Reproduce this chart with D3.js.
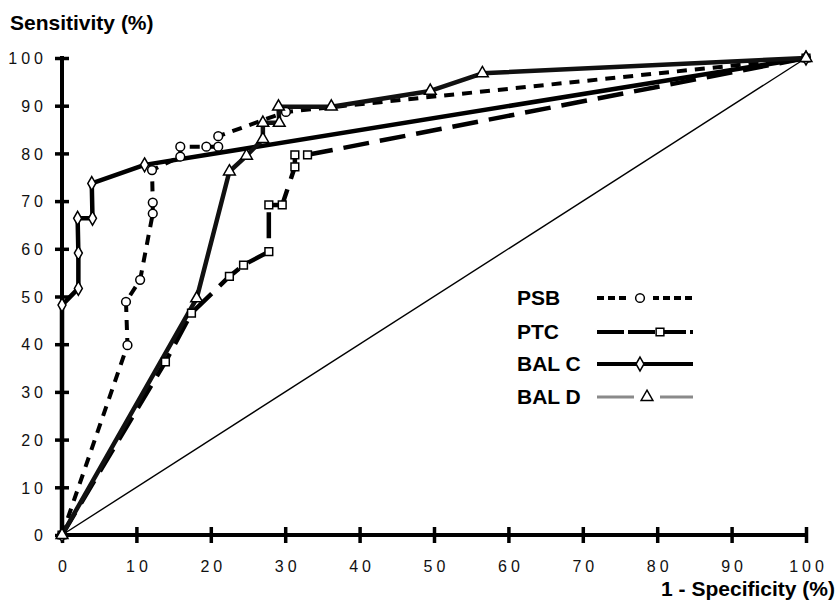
<!DOCTYPE html>
<html><head><meta charset="utf-8">
<script src="https://cdn.jsdelivr.net/npm/d3@7"></script>
<style>body{margin:0;background:#fff}svg{display:block}</style>
</head><body>
<svg id="c" width="839" height="605"></svg>
<script>
// ---- data ----
const xTicks = [0,10,20,30,40,50,60,70,80,90,100];
const yTicks = [0,10,20,30,40,50,60,70,80,90,100];
const xTickLabels = ["0","10","20","30","40","50","60","70","80","90","100"];
const yTickLabels = ["0","10","20","30","40","50","60","70","80","90","100"];

const psbX = [0, 8.8, 8.6, 10.5, 12.2, 12.2, 12.1, 15.9, 15.9, 19.4, 21.0, 21.0, 30.1, 100];
const psbY = [0, 39.8, 48.9, 53.5, 67.4, 69.7, 76.5, 79.3, 81.4, 81.4, 81.4, 83.6, 88.7, 100];

const ptcX = [0, 13.9, 17.4, 22.5, 24.4, 27.8, 27.8, 29.6, 31.3, 31.3, 33.0, 100];
const ptcY = [0, 36.3, 46.5, 54.2, 56.6, 59.4, 69.2, 69.2, 77.2, 79.7, 79.7, 100];

const balcX = [0, 0, 2.2, 2.2, 2.1, 4.1, 4.0, 11.1, 100];
const balcY = [0, 48.2, 51.7, 59.1, 66.4, 66.4, 73.7, 77.6, 100];

const baldX = [0, 18.1, 22.5, 24.8, 27.0, 27.0, 29.2, 29.1, 36.2, 49.5, 56.5, 100];
const baldY = [0, 49.6, 76.2, 79.5, 83.0, 86.4, 86.4, 89.8, 89.8, 93.1, 96.8, 100];

const seriesNames = ["PSB", "PTC", "BAL C", "BAL D"];
// ---- drawing ----
const svg = d3.select("#c");
const x = d3.scaleLinear().domain([0,100]).range([62,806]);
const y = d3.scaleLinear().domain([0,100]).range([535,58]);
const font = "'Liberation Sans', Arial, Helvetica, sans-serif";

const series = [
  {name:"PSB", xs:psbX, ys:psbY, sym:d3.symbolCircle, size:60, dash:"10,8", w:4, color:"#000"},
  {name:"PTC", xs:ptcX, ys:ptcY, sym:d3.symbolSquare, size:60, dash:"26,11", w:4.5, color:"#000"},
  {name:"BAL C", xs:balcX, ys:balcY, sym:d3.symbolDiamond, size:55, dash:null, w:4.5, color:"#000"},
  {name:"BAL D", xs:baldX, ys:baldY, sym:d3.symbolTriangle, size:60, dash:null, w:4.5, color:"#111"}
];

// diagonal reference
svg.append("line").attr("x1",x(0)).attr("y1",y(0)).attr("x2",x(100)).attr("y2",y(100))
  .attr("stroke","#000").attr("stroke-width",1.4);

const line = d3.line().x(d=>x(d[0])).y(d=>y(d[1]));
series.forEach(s=>{
  const pts = s.xs.map((v,i)=>[v,s.ys[i]]);
  svg.append("path").datum(pts).attr("d",line).attr("fill","none")
    .attr("stroke",s.color).attr("stroke-width",s.w)
    .attr("stroke-dasharray",s.dash).attr("stroke-linejoin","round");
});

// axes
const yAxis = d3.axisLeft(y).tickValues(yTicks).tickSize(7).tickFormat((d,i)=>yTickLabels[i]);
const gy = svg.append("g").attr("transform",`translate(${x(0)},0)`).call(yAxis);
const xAxis = d3.axisBottom(x).tickValues(xTicks).tickSize(8).tickFormat((d,i)=>xTickLabels[i]);
const gx = svg.append("g").attr("transform",`translate(0,${y(0)})`).call(xAxis);
[gy,gx].forEach(g=>{
  g.select(".domain").remove();
  g.selectAll(".tick line").attr("stroke","#000").attr("stroke-width",3.5);
  g.selectAll(".tick text").attr("fill","#111").style("font-family",font)
    .style("font-size","16px").style("letter-spacing","4px");
});
svg.append("line").attr("x1",x(0)).attr("x2",x(0)).attr("y1",y(0)+2).attr("y2",y(100)-2)
  .attr("stroke","#000").attr("stroke-width",4);
svg.append("line").attr("x1",x(0)-2).attr("x2",x(100)+2).attr("y1",y(0)).attr("y2",y(0))
  .attr("stroke","#000").attr("stroke-width",4);
gy.selectAll(".tick line").attr("x1",7).attr("x2",-7);
gy.selectAll(".tick text").attr("x",-15).attr("dy","0.36em");
gx.selectAll(".tick line").attr("y1",-8).attr("y2",8);
gx.selectAll(".tick text").attr("y",26).attr("dx","2px");

// markers
series.forEach(s=>{
  const pts = s.xs.map((v,i)=>[v,s.ys[i]]);
  svg.append("g").selectAll("path").data(pts).join("path")
    .attr("transform",d=>`translate(${x(d[0])},${y(d[1])})`)
    .attr("d",d3.symbol().type(s.sym).size(s.size))
    .attr("fill","#fff").attr("stroke","#000").attr("stroke-width",1.5);
});

// axis titles
svg.append("text").attr("x",10).attr("y",30).text("Sensitivity (%)")
  .style("font-family",font).style("font-weight","bold").style("font-size","21px");
svg.append("text").attr("x",835).attr("y",596).attr("text-anchor","end").text("1 - Specificity (%)")
  .style("font-family",font).style("font-weight","bold").style("font-size","21px");

// legend
const legY = [298, 332, 364, 397];
const lg = svg.append("g");
seriesNames.forEach((n,i)=>{
  const s = series[i];
  const yy = legY[i];
  lg.append("text").attr("x",517).attr("y",yy+7).text(n)
    .style("font-family",font).style("font-weight","bold").style("font-size","21px");
  let stroke = "#000", dash = null, w = 4;
  if (n==="PSB") dash = "7,4";
  if (n==="PTC") dash = "27,4";
  if (n==="BAL D") { stroke = "#8a8a8a"; w = 3; }
  lg.append("line").attr("x1",597).attr("x2",693).attr("y1",yy).attr("y2",yy)
    .attr("stroke",stroke).attr("stroke-width",w).attr("stroke-dasharray",dash);
  const mx = n==="PTC" ? 660 : (n==="BAL D" ? 647 : 640);
  if (n==="PSB" || n==="BAL D") {
    lg.append("rect").attr("x",mx-13).attr("y",yy-6).attr("width",26).attr("height",12).attr("fill","#fff");
  }
  lg.append("path").attr("transform",`translate(${mx},${yy})`)
    .attr("d",d3.symbol().type(s.sym).size(s.size))
    .attr("fill","#fff").attr("stroke","#000").attr("stroke-width",1.5);
});
</script>
</body></html>
